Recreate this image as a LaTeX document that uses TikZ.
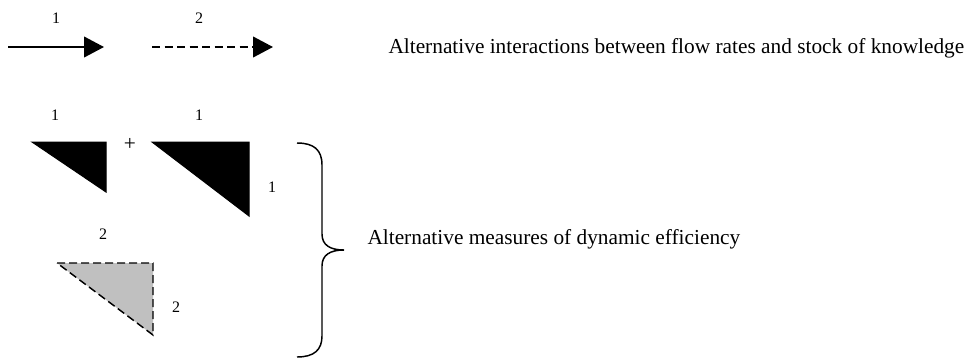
\documentclass[tikz,border=0pt]{standalone}
\usepackage{fontspec}
\setmainfont{Liberation Serif}
\usetikzlibrary{arrows.meta}

\tikzset{every picture/.style={line width=0.75pt}}
\tikzset{
  numlabel/.style={inner sep=0pt,font=\fontsize{12}{14}\selectfont},
  caption/.style={inner sep=0pt,anchor=base west,font=\fontsize{16}{19}\selectfont},
  flowarrow/.style={line width=1.5,-{Triangle[length=15pt,width=15.5pt]}},
  flowdash/.style={dash pattern={on 6pt off 3.4pt}},
  edgedash/.style={line width=1.1,dash pattern={on 6pt off 3pt}}
}

\begin{document}
\begin{tikzpicture}[x=0.75pt,y=0.75pt,yscale=-1,xscale=1]
	\useasboundingbox (0,0) rectangle (967,358);

	%Straight Lines [id:arrowone]
	\coordinate (a1s) at (8,47);
	\coordinate (a1e) at (104,47);
	\draw [flowarrow]  (a1s) -- (a1e) ;
	%Straight Lines [id:arrowtwo]
	\coordinate (a2s) at (152,47);
	\coordinate (a2e) at (273,47);
	\draw [flowarrow]  [flowdash]  (a2s) -- (a2e) ;

	%Shape: Right Triangle [id:trione]
	\draw  [fill=black] (32,142) -- (106,142) -- (106,192) -- cycle ;
	%Shape: Right Triangle [id:tritwo]
	\draw  [fill=black] (152,142) -- (249,142) -- (249,216) -- cycle ;
	%Shape: Right Triangle [id:trithree]
	\draw  [edgedash, fill={rgb, 255:red, 192; green, 192; blue, 192 }] (57,263) -- (153,263) -- (153,335) -- cycle ;

	%Shape: Brace [id:brace]
	\draw [line width=1.1]  (297,143) .. controls (314,143) and (322,150) .. (322,165) -- (322,234) .. controls (322,245) and (330,250) .. (344,250) .. controls (330,250) and (322,255) .. (322,266) -- (322,336) .. controls (322,350) and (314,357) .. (297,357) ;

	% Text Node
	\node [numlabel] (lbla) at (56,18) {1};
	% Text Node
	\node [numlabel] (lblb) at (199,18) {2};
	% Text Node
	\node [caption] (interactions) at (388,53) {Alternative interactions between flow rates and stock of knowledge};
	% Text Node
	\node [numlabel] (lblc) at (55,115) {1};
	% Text Node
	\node [font=\fontsize{16}{19}\selectfont,inner sep=0pt] (plus) at (130,144) {+};
	% Text Node
	\node [numlabel] (lbld) at (199,115) {1};
	% Text Node
	\node [numlabel] (lble) at (272,187) {1};
	% Text Node
	\node [numlabel] (lblf) at (103,234) {2};
	% Text Node
	\node [numlabel] (lblg) at (176,307) {2};
	% Text Node
	\node [caption] (measures) at (367,244) {Alternative measures of dynamic efficiency};

\end{tikzpicture}
\end{document}
